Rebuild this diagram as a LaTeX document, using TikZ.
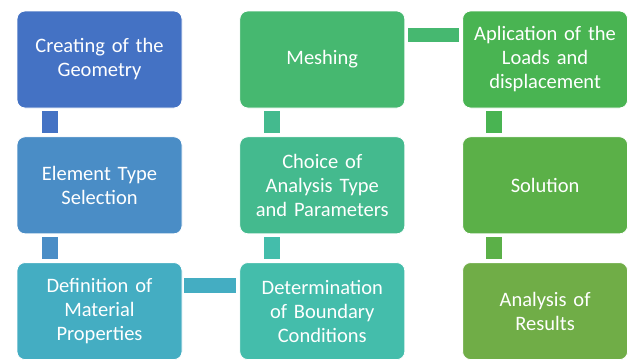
\documentclass[tikz,border=0pt]{standalone}
\usepackage{fontspec}
\setmainfont{Carlito}
\usetikzlibrary{positioning}

\definecolor{stepA}{HTML}{4472C4}
\definecolor{stepB}{HTML}{4A8DC6}
\definecolor{stepC}{HTML}{44ADC2}
\definecolor{stepD}{HTML}{44BDAB}
\definecolor{stepE}{HTML}{44BA8E}
\definecolor{stepF}{HTML}{46B870}
\definecolor{stepG}{HTML}{49B452}
\definecolor{stepH}{HTML}{5BB048}
\definecolor{stepI}{HTML}{70AD47}

\begin{document}
\begin{tikzpicture}
\tikzstyle{every node}=[shape=rectangle,rounded corners=8pt,draw=white,line width=0.8pt,minimum width=165pt,minimum height=97pt,text width=156pt,inner sep=2pt,align=center,text=white,font=\fontsize{20.5}{24}\selectfont];
\useasboundingbox (0,0) rectangle (632pt,-359pt);

% first column, going down
\node[fill=stepA] (geometry) at (99.5pt,-59.5pt) {Creating of the\\Geometry};
\node[fill=stepB,below=28pt of geometry] (elemtype) {Element Type\\Selection};
\node[fill=stepC,below=28pt of elemtype] (material) {Definition of\\Material\\Properties};

% second column, going up
\node[fill=stepD,right=57pt of material] (boundary) {Determination\\of Boundary\\Conditions};
\node[fill=stepE,above=28pt of boundary] (analysis) {Choice of\\Analysis Type\\and Parameters};
\node[fill=stepF,above=28pt of analysis] (meshing) {Meshing};

% third column, going down
\node[fill=stepG,right=57pt of meshing] (loads) {Aplication of the\\Loads and\\displacement};
\node[fill=stepH,below=28pt of loads] (solution) {Solution};
\node[fill=stepI,below=28pt of solution] (results) {Analysis of\\Results};

% connectors
\fill[stepA] ([xshift=25pt,yshift=-3pt]geometry.south west) rectangle ([xshift=41pt,yshift=3pt]elemtype.north west);
\fill[stepB] ([xshift=25pt,yshift=-3pt]elemtype.south west) rectangle ([xshift=41pt,yshift=3pt]material.north west);
\fill[stepC] ([xshift=2pt,yshift=-16pt]material.north east) rectangle ([xshift=-3pt,yshift=-31pt]boundary.north west);
\fill[stepD] ([xshift=25pt,yshift=3pt]boundary.north west) rectangle ([xshift=41pt,yshift=-3pt]analysis.south west);
\fill[stepE] ([xshift=25pt,yshift=3pt]analysis.north west) rectangle ([xshift=41pt,yshift=-3pt]meshing.south west);
\fill[stepF] ([xshift=3pt,yshift=-17pt]meshing.north east) rectangle ([xshift=-3pt,yshift=-31pt]loads.north west);
\fill[stepG] ([xshift=24pt,yshift=-3pt]loads.south west) rectangle ([xshift=40pt,yshift=3pt]solution.north west);
\fill[stepH] ([xshift=24pt,yshift=-3pt]solution.south west) rectangle ([xshift=40pt,yshift=3pt]results.north west);
\end{tikzpicture}
\end{document}
